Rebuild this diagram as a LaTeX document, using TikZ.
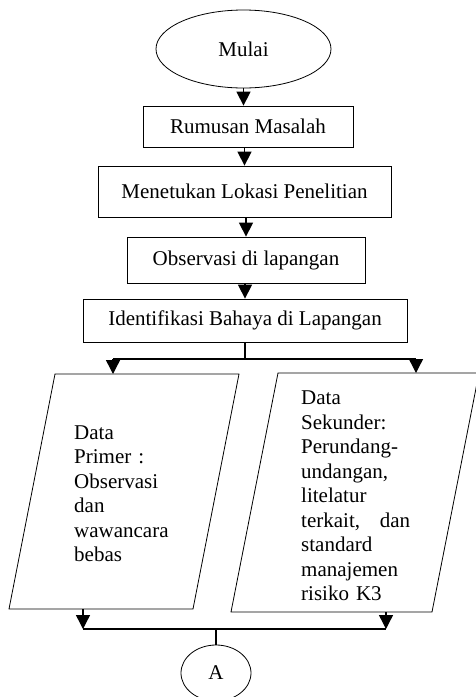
\documentclass[tikz,border=0pt]{standalone}
\usepackage{fontspec}
\setmainfont{Liberation Serif}
\usetikzlibrary{shapes.geometric,arrows.meta}
\begin{document}
\begin{tikzpicture}[x=1pt,y=-1pt,
  every node/.style={font=\fontsize{21}{24.5}\selectfont},
  boxn/.style={draw,line width=0.8pt,rectangle,inner sep=0pt},
  ell/.style={draw,line width=0.8pt,ellipse,inner sep=0pt},
  conn/.style={line width=1.4pt},
  arr/.style={line width=1.4pt,-{Triangle[width=14pt,length=14pt]}},
  para/.style={line width=0.8pt},
  ptext/.style={anchor=north west,inner sep=0pt,align=left}]
\useasboundingbox (0,0) rectangle (476,697);
\fill[white] (0,0) rectangle (476,697);

\node[ell,minimum width=175pt,minimum height=78pt] (mulai) at (243.5,49) {Mulai};
\node[boxn,minimum width=210pt,minimum height=41pt] (rumusan) at (248,126.5) {Rumusan Masalah};
\node[boxn,minimum width=293pt,minimum height=51pt] (menet) at (244.5,191.5) {Menetukan Lokasi Penelitian};
\node[boxn,minimum width=238pt,minimum height=46pt] (observ) at (246,260) {Observasi di lapangan};
\node[boxn,minimum width=324pt,minimum height=43pt] (ident) at (245,320.5) {Identifikasi Bahaya di Lapangan};

\draw[arr] (mulai.south) -- (mulai.south |- rumusan.north);
\draw[arr] (menet.north |- rumusan.south) -- (menet.north);
\draw[arr] (observ.north |- menet.south) -- (observ.north);
\draw[arr] (ident.north |- observ.south) -- (ident.north);

% parallelograms
\coordinate (L1) at (55,374); \coordinate (L2) at (239,374);
\coordinate (L3) at (193,609); \coordinate (L4) at (9,609);
\coordinate (R1) at (278,373); \coordinate (R2) at (479,373);
\coordinate (R3) at (432,612); \coordinate (R4) at (231,612);
\draw[para] (L1) -- (L2) -- (L3) -- (L4) -- cycle;
\draw[para] (R1) -- (R2) -- (R3) -- (R4) -- cycle;

\node[ptext,text width=110pt] (ltext) at (74,425.4) {Data\\Primer :\\Observasi\\dan\\wawancara\\bebas};
\node[ptext,text width=109pt] (rtext) at (301,391) {Data\\Sekunder:\\Perundang-\\undangan,\\litelatur\\terkait,\hfill dan\\standard\\manajemen\\risiko K3};

% split
\coordinate (sp) at (245,359);
\coordinate (spL) at (113,359);
\coordinate (spR) at (416,359);
\draw[conn] (ident.south) -- (sp);
\draw[conn] (spL) -- (spR);
\draw[arr] (spL) -- (spL |- L1);
\draw[arr] (spR) -- (spR |- R1);

% join
\node[ell,minimum width=70pt,minimum height=56pt] (A) at (216,673) {A};
\coordinate (jL) at (83,629);
\coordinate (jR) at (386,629);
\coordinate (jm) at (216,629);
\draw[arr] (jL |- L4) -- (jL);
\draw[arr] (jR |- R4) -- (jR);
\draw[conn] (jL) -- (jR);
\draw[conn] (jm) -- (A.north);
\end{tikzpicture}
\end{document}
